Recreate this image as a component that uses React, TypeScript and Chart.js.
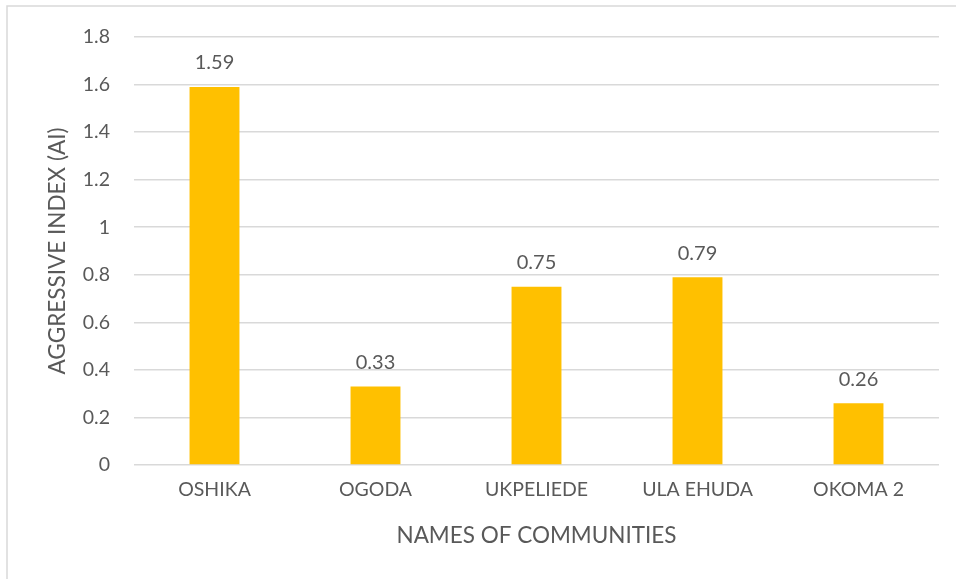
import React, { useEffect, useRef } from "react";
import { Chart, registerables } from "chart.js";

Chart.register(...registerables);

const categories: string[] = ["OSHIKA", "OGODA", "UKPELIEDE", "ULA EHUDA", "OKOMA 2"];
const aiValues: number[] = [1.59, 0.33, 0.75, 0.79, 0.26];
const valueLabels: string[] = ["1.59", "0.33", "0.75", "0.79", "0.26"];
const yTickLabels: string[] = ["0", "0.2", "0.4", "0.6", "0.8", "1", "1.2", "1.4", "1.6", "1.8"];
const xTitle = "NAMES OF COMMUNITIES";
const yTitle = "AGGRESSIVE INDEX (AI)";

const FONT = "Lato, 'Open Sans', sans-serif";
const TEXT = "#595959";
const GRID = "#D9D9D9";
const BAR = "#FFC000";

const framePlugin = {
  id: "frame",
  beforeDraw(chart: any) {
    const ctx = chart.ctx;
    ctx.save();
    ctx.fillStyle = "#ffffff";
    ctx.fillRect(0, 0, chart.width, chart.height);
    ctx.strokeStyle = GRID;
    ctx.lineWidth = 1.5;
    ctx.beginPath();
    ctx.moveTo(7, chart.height);
    ctx.lineTo(7, 6);
    ctx.lineTo(chart.width, 6);
    ctx.stroke();
    ctx.restore();
  },
};

const valueLabelPlugin = {
  id: "valueLabels",
  afterDatasetsDraw(chart: any) {
    const ctx = chart.ctx;
    const meta = chart.getDatasetMeta(0);
    ctx.save();
    ctx.fillStyle = TEXT;
    ctx.font = `20px ${FONT}`;
    ctx.textAlign = "center";
    ctx.textBaseline = "middle";
    meta.data.forEach((el: any, i: number) => {
      ctx.fillText(valueLabels[i], el.x, el.y - 24);
    });
    ctx.restore();
  },
};

export default function App() {
  const ref = useRef<HTMLCanvasElement | null>(null);
  useEffect(() => {
    if (!ref.current) return;
    const chart = new Chart(ref.current, {
      type: "bar",
      data: {
        labels: categories,
        datasets: [
          {
            data: aiValues,
            backgroundColor: BAR,
            borderWidth: 0,
            barPercentage: 0.31,
            categoryPercentage: 1,
          },
        ],
      },
      options: {
        responsive: false,
        animation: false,
        layout: { padding: { top: 37, right: 17, bottom: 0, left: 0 } },
        plugins: { legend: { display: false }, tooltip: { enabled: false } },
        scales: {
          x: {
            grid: { display: false, drawTicks: false },
            border: { display: false },
            ticks: { color: TEXT, font: { family: FONT, size: 19.5 }, padding: 13, maxRotation: 0, autoSkip: false },
            title: {
              display: true,
              text: xTitle,
              color: TEXT,
              font: { family: FONT, size: 22.5 },
              padding: { top: 0, bottom: 29.5 },
            },
            afterFit(scale: any) {
              scale.height = 114;
            },
          },
          y: {
            min: 0,
            max: 1.8,
            grid: { color: GRID, lineWidth: 1.5, drawTicks: false },
            border: { display: false },
            ticks: {
              stepSize: 0.2,
              color: TEXT,
              font: { family: FONT, size: 19.5 },
              padding: 24,
              callback: (_v: any, i: number) => yTickLabels[i],
            },
            title: {
              display: true,
              text: yTitle,
              color: TEXT,
              font: { family: FONT, size: 22.5 },
              padding: { top: 44.5, bottom: 0 },
            },
            afterFit(scale: any) {
              scale.width = 134;
            },
          },
        },
      },
      plugins: [framePlugin, valueLabelPlugin],
    });
    return () => chart.destroy();
  }, []);
  return (
    <div style={{ position: "fixed", left: 0, top: 0, width: 956, height: 579, background: "#fff" }}>
      <canvas ref={ref} width={956} height={579} />
    </div>
  );
}
